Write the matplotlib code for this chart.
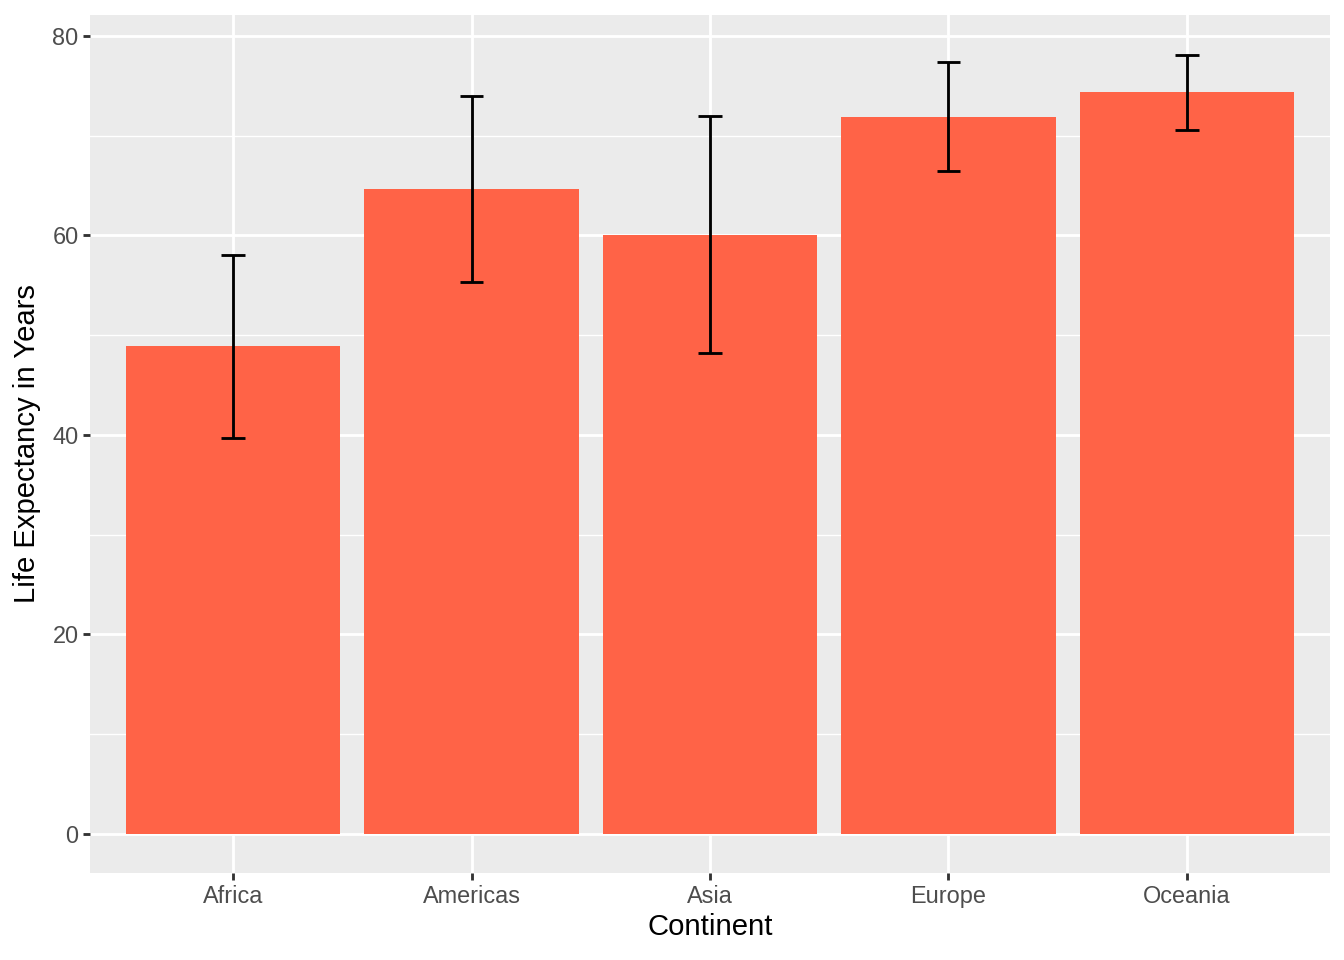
import matplotlib
matplotlib.use("Agg")
import matplotlib.pyplot as plt
import numpy as np

# gapminder life expectancy by continent: mean and sd
continents = ["Africa", "Americas", "Asia", "Europe", "Oceania"]
mean_life = [48.87, 64.66, 60.06, 71.90, 74.33]
sd_life = [9.15, 9.35, 11.86, 5.43, 3.80]

plt.rcParams['font.family'] = ['Liberation Sans', 'DejaVu Sans']

fig = plt.figure(figsize=(13.44, 9.6), dpi=100)
ax = fig.add_axes([90 / 1344, 1 - 873 / 960, 1240 / 1344, 858 / 960])

x = np.arange(1, len(continents) + 1)
mean_arr = np.array(mean_life)
sd_arr = np.array(sd_life)

ax.set_facecolor("#EBEBEB")
for s in ax.spines.values():
    s.set_visible(False)

# grid
ax.set_yticks([0, 20, 40, 60, 80])
ax.set_yticks([10, 30, 50, 70], minor=True)
ax.grid(True, which="major", color="white", linewidth=2.05)
ax.grid(True, which="minor", axis="y", color="white", linewidth=1.0)
ax.set_axisbelow(True)

ax.bar(x, mean_arr, width=0.9, color="#FF6347", zorder=2)

# error bars (ggplot geom_errorbar width=0.1)
half = 0.05
lo = mean_arr - sd_arr
hi = mean_arr + sd_arr
ax.vlines(x, lo, hi, color="black", linewidth=2.05, zorder=3)
ax.hlines(lo, x - half, x + half, color="black", linewidth=2.05, zorder=3)
ax.hlines(hi, x - half, x + half, color="black", linewidth=2.05, zorder=3)

ax.set_xlim(0.4, 5.6)
ax.set_ylim(-3.91, 82.09)
ax.set_xticks(x)
ax.set_xticklabels(continents)

ax.tick_params(axis="both", which="major", length=5.3, width=2.05,
               color="#333333", labelcolor="#4D4D4D", labelsize=16.9, pad=3)
ax.tick_params(axis="y", which="minor", length=0)

ax.set_xlabel("Continent", fontsize=21.1, color="black", labelpad=4)
ax.set_ylabel("Life Expectancy in Years", fontsize=21.1, color="black", labelpad=8)

fig.savefig("out.png", dpi=100)
